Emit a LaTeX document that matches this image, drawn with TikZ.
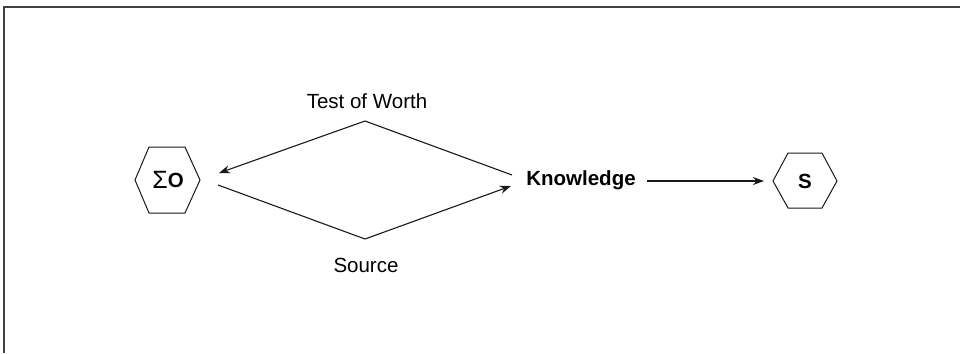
\documentclass[tikz,border=0pt]{standalone}
\usepackage{fontspec}
\setmainfont{Liberation Sans}
\usetikzlibrary{arrows.meta}
\begin{document}
\begin{tikzpicture}[x=1pt,y=-1pt,
  line/.style={line width=1.1pt,black!90},
  arr/.style={line, -{Stealth[length=11pt,width=8pt]}},
  hexline/.style={line width=1pt,black!90,line join=miter},
  lbl/.style={font=\fontsize{20.5}{24}\selectfont, inner sep=0pt},
  bold/.style={font=\fontsize{20.5}{24}\selectfont\bfseries, inner sep=0pt},
  frame/.style={line width=1.5pt,black!75}]
\useasboundingbox (0,0) rectangle (960,353);
% frame (top and left visible)
\draw[frame] (4,353) -- (4,7) -- (962,7);
% Sigma O hexagon
\coordinate (oL) at (135,180); \coordinate (oTL) at (149,147); \coordinate (oTR) at (185,147);
\coordinate (oR) at (200,180); \coordinate (oBR) at (185,213); \coordinate (oBL) at (149,213);
\draw[hexline] (oL) -- (oTL) -- (oTR) -- (oR) -- (oBR) -- (oBL) -- cycle;
\node[inner sep=0pt] (O) at (168,180) {{\fontsize{25}{28}\selectfont\raisebox{-1pt}{Σ}}{\fontsize{20.5}{24}\selectfont\bfseries O}};
% S hexagon
\coordinate (sL) at (773,181); \coordinate (sTL) at (788,153); \coordinate (sTR) at (822,153);
\coordinate (sR) at (837,181); \coordinate (sBR) at (822,208); \coordinate (sBL) at (788,208);
\draw[hexline] (sL) -- (sTL) -- (sTR) -- (sR) -- (sBR) -- (sBL) -- cycle;
\node[bold] (S) at (805,181) {S};
% Knowledge
\node[bold] (K) at (581,180) {Knowledge};
% diamond connectors
\coordinate (top) at (365,121);
\coordinate (bot) at (365,239);
\coordinate (ul) at (219,173);
\coordinate (ur) at (512,175);
\coordinate (ll) at (218,185);
\coordinate (lr) at (511,186);
\draw[arr] (ur) -- (top) -- (ul);
\draw[arr] (ll) -- (bot) -- (lr);
\node[lbl] (tw) at (367,101) {Test of Worth};
\node[lbl] (src) at (366,265) {Source};
% Knowledge -> S
\coordinate (kS) at (764,181);
\draw[arr] (K.east) ++(11,1) coordinate (kE) -- (kS);
\end{tikzpicture}
\end{document}
